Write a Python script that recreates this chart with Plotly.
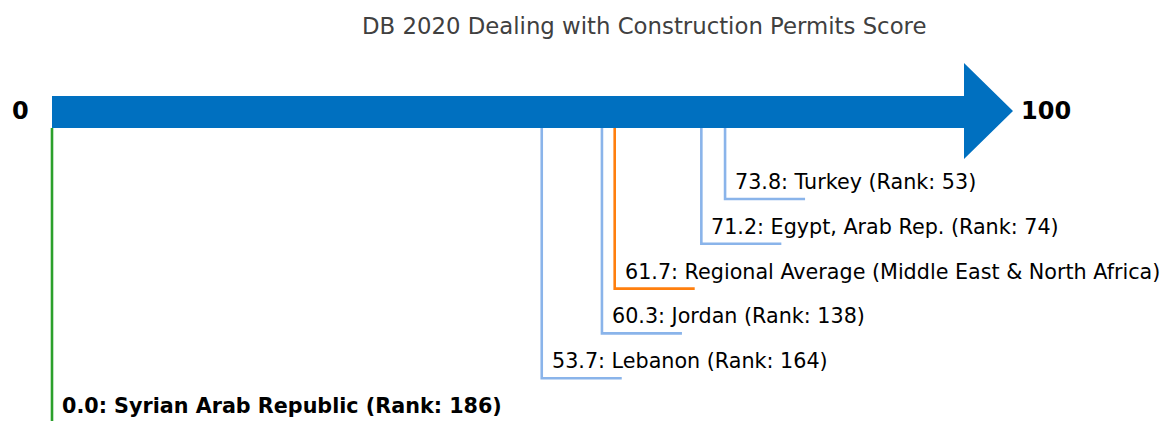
import plotly.graph_objects as go

title = "DB 2020 Dealing with Construction Permits Score"
names = ["Turkey", "Egypt, Arab Rep.", "Regional Average (Middle East & North Africa)",
         "Jordan", "Lebanon", "Syrian Arab Republic"]
scores = [73.8, 71.2, 61.7, 60.3, 53.7, 0.0]
ranks = [53, 74, None, 138, 164, 186]
kinds = ["peer", "peer", "region", "peer", "peer", "focus"]

colors = {"peer": "#8AB4EA", "region": "#FF7F0E", "focus": "#2CA02C"}

W, H = 1168, 421
OFF = 8             # page body margin
PX0 = 52.0 - OFF    # plot pixel of score 0
PPU = 9.12          # pixels per score unit
x0 = -PX0 / PPU
x1 = x0 + W / PPU

shaft_top, shaft_bot = 96, 128
head_top, head_bot, tip_y = 63, 159, 111
head_len = (1013 - (52 + 100 * PPU)) / PPU
hlen = 80 / PPU
level0, step = 199, 44.8
FONT = "DejaVu Sans"

fig = go.Figure()

# arrow
fig.add_shape(type="path",
              path=(f"M 0 {shaft_top} L 100 {shaft_top} L 100 {head_top} "
                    f"L {100 + head_len} {tip_y} L 100 {head_bot} L 100 {shaft_bot} "
                    f"L 0 {shaft_bot} Z"),
              xref="x", yref="y", fillcolor="#0070C0", line=dict(width=0), layer="above")

for i, (n, s, r, k) in enumerate(zip(names, scores, ranks, kinds)):
    ly = level0 + i * step
    fig.add_trace(go.Scatter(x=[s, s, s + hlen] if k != "focus" else [s, s],
                             y=[shaft_bot, ly, ly] if k != "focus" else [shaft_bot, H + 40],
                             mode="lines", line=dict(color=colors[k], width=2.6),
                             hoverinfo="skip", showlegend=False))
    label = f"{s:.1f}: {n}" + (f" (Rank: {r})" if r is not None else "")
    if k == "focus":
        label = f"<b>{label}</b>"
    fig.add_annotation(x=s, y=ly - 17, text=label, showarrow=False,
                       xanchor="left", yanchor="middle", xshift=8,
                       font=dict(size=20.7, color="black", family=FONT))

fig.add_annotation(x=0, y=tip_y, text="<b>0</b>", showarrow=False, xanchor="center",
                   yanchor="middle", xshift=-32, font=dict(size=24, color="black", family=FONT))
fig.add_annotation(x=100 + head_len, y=tip_y, text="<b>100</b>", showarrow=False, xanchor="left",
                   yanchor="middle", xshift=6, font=dict(size=24, color="black", family=FONT))
fig.add_annotation(x=(644 - 52) / PPU, y=26, text=title, showarrow=False,
                   xanchor="center", yanchor="middle",
                   font=dict(size=22.8, color="#404040", family=FONT))

fig.update_layout(width=W, height=H, margin=dict(l=0, r=0, t=0, b=0),
                  plot_bgcolor="white", paper_bgcolor="white", showlegend=False,
                  xaxis=dict(range=[x0, x1], visible=False, fixedrange=True),
                  yaxis=dict(range=[H + OFF, OFF], visible=False, fixedrange=True))

fig.write_html("out.html")
